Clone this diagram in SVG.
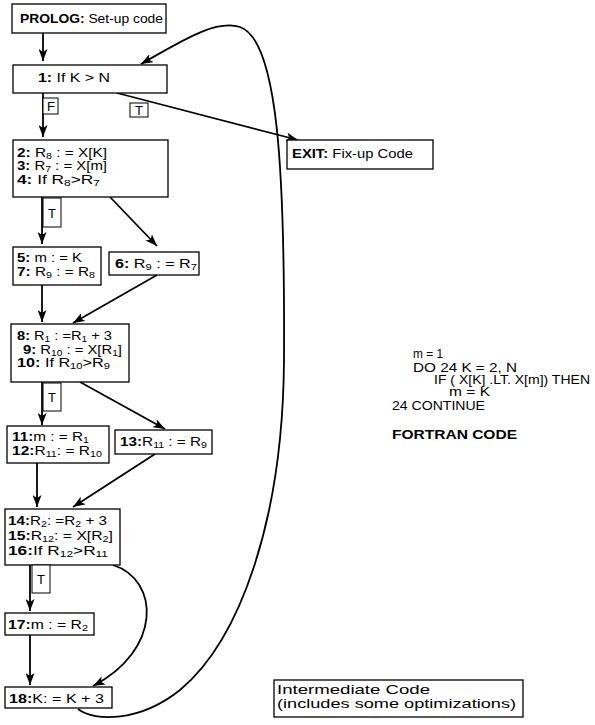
<svg xmlns="http://www.w3.org/2000/svg" width="595" height="725" viewBox="0 0 595 725">
<style>
.bx{fill:#fff;stroke:#000;stroke-width:1.3}
.lb{fill:#fff;stroke:#000;stroke-width:1}
.t{font-family:"Liberation Sans",Arial,sans-serif;font-size:13px;fill:#000}
.s{font-size:9px}
.b{font-weight:bold}
.c{stroke:#000;stroke-width:1.8;fill:none}
.f{font-family:"Liberation Sans",Arial,sans-serif;font-size:13px;fill:#000}
</style>
<defs>
<marker id="ah" markerUnits="userSpaceOnUse" markerWidth="13" markerHeight="9" refX="12" refY="4.5" orient="auto">
<path d="M0,0 L12,4.5 L0,9 L3,4.5 z" fill="#000"/>
</marker>
</defs>
<rect width="595" height="725" fill="#fff"/>
<g id="connectors">
<path class="c" d="M43 33 L43 61" marker-end="url(#ah)"/>
<path class="c" d="M43 93 L43 137" marker-end="url(#ah)"/>
<path class="c" d="M117 93 L298 140" marker-end="url(#ah)"/>
<path class="c" d="M42 197 L42 244" marker-end="url(#ah)"/>
<path class="c" d="M110 197 L157 246" marker-end="url(#ah)"/>
<path class="c" d="M42 285 L42 322" marker-end="url(#ah)"/>
<path class="c" d="M157 275 L73 323" marker-end="url(#ah)"/>
<path class="c" d="M42 382 L42 425" marker-end="url(#ah)"/>
<path class="c" d="M80 382 L165 429" marker-end="url(#ah)"/>
<path class="c" d="M37 463 L37 507" marker-end="url(#ah)"/>
<path class="c" d="M155 454 L73 507" marker-end="url(#ah)"/>
<path class="c" d="M30 565 L30 611" marker-end="url(#ah)"/>
<path class="c" d="M30 635 L30 685" marker-end="url(#ah)"/>
<path class="c" d="M113 565 C160 580 162 650 93 686" marker-end="url(#ah)"/>
<path class="c" d="M78 709 C95 722 140 722 180 690 C240 640 283 520 284 360 C285 170 278 40 240 27 C215 19 180 42 141 64" marker-end="url(#ah)"/>
</g>
<g id="prolog"><rect class="bx" x="12" y="4" width="154" height="29"/>
<text class="t" x="20" y="23" font-size="14" textLength="143" lengthAdjust="spacingAndGlyphs"><tspan class="b">PROLOG:</tspan> Set-up code</text></g>
<g id="n1"><rect class="bx" x="13" y="65" width="154" height="28"/>
<text class="t" x="38" y="82" textLength="72" lengthAdjust="spacingAndGlyphs"><tspan class="b">1:</tspan> If  K &gt; N</text></g>
<g id="lf"><rect class="lb" x="43" y="98" width="15" height="16"/><text class="t" x="51" y="111" text-anchor="middle" font-size="12">F</text></g>
<g id="lt1"><rect class="lb" x="130" y="103" width="18" height="14"/><text class="t" x="139" y="115" text-anchor="middle" font-size="12">T</text></g>
<g id="exit"><rect class="bx" x="287" y="140" width="146" height="29"/>
<text class="t" x="292" y="158" textLength="121" lengthAdjust="spacingAndGlyphs"><tspan class="b">EXIT:</tspan> Fix-up  Code</text></g>
<g id="n2"><rect class="bx" x="13" y="140" width="155" height="57"/>
<text class="t" x="17" y="157" textLength="90" lengthAdjust="spacingAndGlyphs"><tspan class="b">2:</tspan> R<tspan class="s" dy="2">8</tspan><tspan dy="-2"> : = X[K]</tspan></text>
<text class="t" x="17" y="170" textLength="90" lengthAdjust="spacingAndGlyphs"><tspan class="b">3:</tspan> R<tspan class="s" dy="2">7</tspan><tspan dy="-2"> : = X[m]</tspan></text>
<text class="t" x="17" y="184" textLength="83" lengthAdjust="spacingAndGlyphs"><tspan class="b">4:</tspan> If  R<tspan class="s" dy="2">8</tspan><tspan dy="-2">&gt;R</tspan><tspan class="s" dy="2">7</tspan></text></g>
<g id="lt2"><rect class="lb" x="43" y="198" width="18" height="29"/><text class="t" x="52" y="218" text-anchor="middle" font-size="12">T</text></g>
<g id="n5"><rect class="bx" x="13" y="247" width="88" height="38"/>
<text class="t" x="17" y="262" textLength="65" lengthAdjust="spacingAndGlyphs"><tspan class="b">5:</tspan> m : = K</text>
<text class="t" x="17" y="276" textLength="78" lengthAdjust="spacingAndGlyphs"><tspan class="b">7:</tspan> R<tspan class="s" dy="2">9</tspan><tspan dy="-2"> : = R</tspan><tspan class="s" dy="2">8</tspan></text></g>
<g id="n6"><rect class="bx" x="109" y="252" width="90" height="23"/>
<text class="t" x="115" y="268" textLength="82" lengthAdjust="spacingAndGlyphs"><tspan class="b">6:</tspan> R<tspan class="s" dy="2">9</tspan><tspan dy="-2">  : = R</tspan><tspan class="s" dy="2">7</tspan></text></g>
<g id="n8"><rect class="bx" x="11" y="324" width="118" height="58"/>
<text class="t" x="17" y="340" textLength="95" lengthAdjust="spacingAndGlyphs"><tspan class="b">8:</tspan> R<tspan class="s" dy="2">1</tspan><tspan dy="-2"> : =R</tspan><tspan class="s" dy="2">1</tspan><tspan dy="-2"> + 3</tspan></text>
<text class="t" x="23" y="354" textLength="99" lengthAdjust="spacingAndGlyphs"><tspan class="b">9:</tspan> R<tspan class="s" dy="2">10</tspan><tspan dy="-2"> : = X[R</tspan><tspan class="s" dy="2">1</tspan><tspan dy="-2">]</tspan></text>
<text class="t" x="17" y="367" textLength="93" lengthAdjust="spacingAndGlyphs"><tspan class="b">10:</tspan> If  R<tspan class="s" dy="2">10</tspan><tspan dy="-2">&gt;R</tspan><tspan class="s" dy="2">9</tspan></text></g>
<g id="lt3"><rect class="lb" x="43" y="383" width="18" height="28"/><text class="t" x="52" y="402" text-anchor="middle" font-size="12">T</text></g>
<g id="n11"><rect class="bx" x="7" y="426" width="102" height="37"/>
<text class="t" x="12" y="441" textLength="77" lengthAdjust="spacingAndGlyphs"><tspan class="b">11:</tspan>m : = R<tspan class="s" dy="2">1</tspan></text>
<text class="t" x="12" y="455" textLength="90" lengthAdjust="spacingAndGlyphs"><tspan class="b">12:</tspan>R<tspan class="s" dy="2">11</tspan><tspan dy="-2">: = R</tspan><tspan class="s" dy="2">10</tspan></text></g>
<g id="n13"><rect class="bx" x="115" y="430" width="97" height="24"/>
<text class="t" x="120" y="446" textLength="87" lengthAdjust="spacingAndGlyphs"><tspan class="b">13:</tspan>R<tspan class="s" dy="2">11</tspan><tspan dy="-2"> : = R</tspan><tspan class="s" dy="2">9</tspan></text></g>
<g id="n14"><rect class="bx" x="5" y="509" width="115" height="56"/>
<text class="t" x="8" y="525" textLength="99" lengthAdjust="spacingAndGlyphs"><tspan class="b">14:</tspan>R<tspan class="s" dy="2">2</tspan><tspan dy="-2">: =R</tspan><tspan class="s" dy="2">2</tspan><tspan dy="-2"> + 3</tspan></text>
<text class="t" x="8" y="540" textLength="105" lengthAdjust="spacingAndGlyphs"><tspan class="b">15:</tspan>R<tspan class="s" dy="2">12</tspan><tspan dy="-2">: = X[R</tspan><tspan class="s" dy="2">2</tspan><tspan dy="-2">]</tspan></text>
<text class="t" x="8" y="555" textLength="100" lengthAdjust="spacingAndGlyphs"><tspan class="b">16:</tspan>If  R<tspan class="s" dy="2">12</tspan><tspan dy="-2">&gt;R</tspan><tspan class="s" dy="2">11</tspan></text></g>
<g id="lt4"><rect class="lb" x="32" y="565" width="18" height="28"/><text class="t" x="41" y="584" text-anchor="middle" font-size="12">T</text></g>
<g id="n17"><rect class="bx" x="5" y="613" width="89" height="22"/>
<text class="t" x="8" y="629" textLength="80" lengthAdjust="spacingAndGlyphs"><tspan class="b">17:</tspan>m : = R<tspan class="s" dy="2">2</tspan></text></g>
<g id="n18"><rect class="bx" x="5" y="687" width="107" height="21"/>
<text class="t" x="9" y="703" textLength="95" lengthAdjust="spacingAndGlyphs"><tspan class="b">18:</tspan>K: = K  +  3</text></g>
<g id="fortran">
<text class="f" x="413" y="358" textLength="30" lengthAdjust="spacingAndGlyphs">m = 1</text>
<text class="f" x="413" y="372" textLength="104" lengthAdjust="spacingAndGlyphs">DO 24 K = 2, N</text>
<text class="f" x="434" y="384" textLength="156" lengthAdjust="spacingAndGlyphs">IF ( X[K] .LT. X[m]) THEN</text>
<text class="f" x="449" y="396" textLength="41" lengthAdjust="spacingAndGlyphs">m = K</text>
<text class="f" x="392" y="410" textLength="93" lengthAdjust="spacingAndGlyphs">24 CONTINUE</text>
<text class="f b" x="392" y="439" font-size="15" textLength="125" lengthAdjust="spacingAndGlyphs">FORTRAN  CODE</text>
</g>
<g id="legend"><rect class="bx" x="274" y="680" width="249" height="37"/>
<text class="t" x="277" y="694" font-size="15" textLength="153" lengthAdjust="spacingAndGlyphs">Intermediate Code</text>
<text class="t" x="277" y="708" font-size="15" textLength="239" lengthAdjust="spacingAndGlyphs">(includes some optimizations)</text></g>
</svg>
